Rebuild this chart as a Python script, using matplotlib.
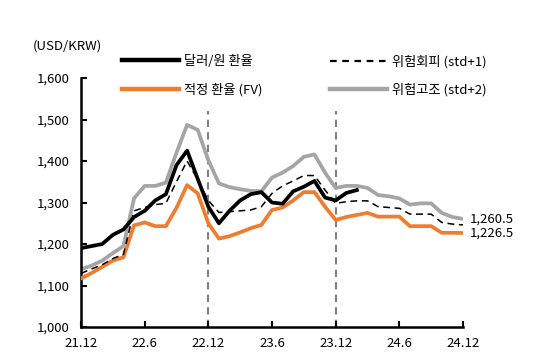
import matplotlib.pyplot as plt
import numpy as np
from matplotlib.lines import Line2D

plt.rcParams["font.family"] = ["Noto Sans CJK KR", "DejaVu Sans"]

# monthly, 21.12 -> 24.12
months = np.arange(37)
tick_pos = [0, 6, 12, 18, 24, 30, 36]
tick_labels = ["21.12", "22.6", "22.12", "23.6", "23.12", "24.6", "24.12"]

# actual USD/KRW (ends 24.2)
actual = [1190, 1195, 1200, 1222, 1235, 1265, 1280, 1305, 1320, 1390, 1425, 1357,
          1290, 1250, 1280, 1305, 1320, 1325, 1300, 1297, 1327, 1338, 1352, 1312,
          1305, 1323, 1330]
fair_value = [1117, 1130, 1145, 1160, 1168, 1245, 1252, 1243, 1243, 1287, 1342, 1322,
              1250, 1213, 1219, 1228, 1238, 1246, 1282, 1288, 1305, 1325, 1325, 1290,
              1258, 1265, 1270, 1275, 1266, 1266, 1266, 1243, 1243, 1243, 1227, 1227,
              1226.5]
std1 = [1129, 1140, 1150, 1165, 1175, 1280, 1288, 1295, 1298, 1350, 1400, 1355,
        1305, 1276, 1278, 1280, 1282, 1290, 1322, 1340, 1352, 1365, 1365, 1330,
        1298, 1302, 1304, 1304, 1290, 1288, 1286, 1272, 1272, 1272, 1252, 1248,
        1246]
std2 = [1139, 1148, 1160, 1178, 1195, 1310, 1340, 1340, 1348, 1420, 1487, 1475,
        1402, 1346, 1337, 1332, 1328, 1327, 1360, 1372, 1388, 1410, 1416, 1372,
        1335, 1340, 1340, 1335, 1318, 1315, 1310, 1295, 1298, 1298, 1275, 1265,
        1260.5]
event_months = [12, 24]

ORANGE = "#ED7D31"
GRAY = "#A5A5A5"

fig = plt.figure(figsize=(5.57, 3.64), dpi=100)
ax = fig.add_axes([0.1454, 0.1016, 0.6858, 0.6841])

ax.vlines(event_months, 1000, 1520, colors="#808080", linestyles=(0, (3.5, 2.5)),
          linewidth=1.5, zorder=1)

ax.plot(months, std2, color=GRAY, linewidth=2.7, zorder=2)
ax.plot(months, fair_value, color=ORANGE, linewidth=2.7, zorder=3)
ax.plot(months, std1, color="black", linewidth=1.1, linestyle=(0, (4.5, 3)), zorder=4)
ax.plot(months[:len(actual)], actual, color="black", linewidth=2.7, zorder=5)

ax.set_xlim(0, 36)
ax.set_ylim(1000, 1600)
ax.set_xticks(tick_pos)
ax.set_xticklabels(tick_labels)
ax.set_yticks(np.arange(1000, 1601, 100))
ax.set_yticklabels([f"{v:,}" for v in range(1000, 1601, 100)])
ax.tick_params(direction="in", length=4, width=1.5, labelsize=9.5, colors="black")
ax.tick_params(axis="x", pad=7)
ax.tick_params(axis="y", pad=8)
for side in ["top", "right"]:
    ax.spines[side].set_visible(False)
for side in ["left", "bottom"]:
    ax.spines[side].set_linewidth(1.8)

ax.text(36.6, std2[-1], f"{std2[-1]:,.1f}", fontsize=9.5, va="center", ha="left")
ax.text(36.6, fair_value[-1], f"{fair_value[-1]:,.1f}", fontsize=9.5, va="center", ha="left")

fig.text(33 / 557, 1 - 46 / 364, "(USD/KRW)", fontsize=9.5, va="center", ha="left")

h1 = [Line2D([], [], color="black", linewidth=3.2),
      Line2D([], [], color=ORANGE, linewidth=3.2)]
h2 = [Line2D([], [], color="black", linewidth=1.6, linestyle=(0, (3, 2.5))),
      Line2D([], [], color=GRAY, linewidth=3.2)]
legend_kw = dict(loc="upper left", frameon=False, fontsize=9.5, handlelength=4.3,
                 handletextpad=0.4, labelspacing=1.12, borderpad=0, borderaxespad=0)
fig.legend(h1, ["달러/원 환율", "적정 환율 (FV)"],
           bbox_to_anchor=(122 / 557, 1 - 55 / 364), **legend_kw)
fig.legend(h2, ["위험회피 (std+1)", "위험고조 (std+2)"],
           bbox_to_anchor=(330 / 557, 1 - 55 / 364), **legend_kw)

fig.savefig("out.png", dpi=100)
